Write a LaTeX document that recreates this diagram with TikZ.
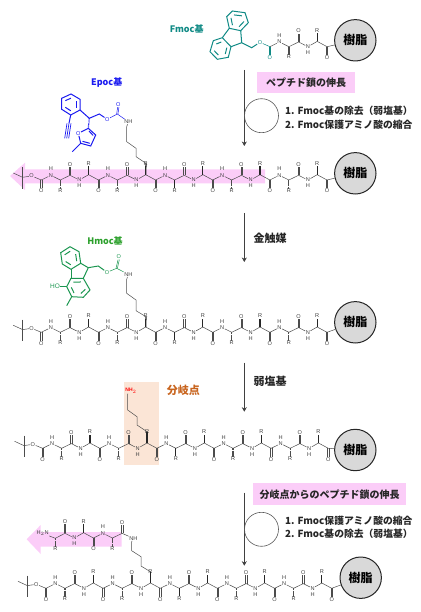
\documentclass[tikz,border=0pt]{standalone}
\usepackage{fontspec}
\newfontfamily\jpfont{Noto Sans CJK JP}
\setsansfont{Liberation Sans}
\usetikzlibrary{arrows.meta,calc}
\definecolor{fmoccol}{HTML}{108A85}
\definecolor{epoccol}{HTML}{1A1AF0}
\definecolor{hmoccol}{HTML}{1B9650}
\definecolor{hmoctxt}{HTML}{2CA02C}
\definecolor{branchcol}{HTML}{C8641E}
\definecolor{pinkband}{HTML}{FBCDF8}
\definecolor{peachbox}{HTML}{FBE5D6}
\begin{document}
\begin{tikzpicture}[
  x=1pt, y=-1pt,
  bond/.style     = {draw=black!70, line width=0.5pt},
  wedgeb/.style   = {draw=black!85, line width=1.2pt},
  hashb/.style    = {draw=black!70, line width=1.2pt, dash pattern=on 0.5pt off 0.6pt},
  atom/.style     = {font=\sffamily\fontsize{5.6}{6}\selectfont, inner sep=0.4pt, text=black!75},
  fmocb/.style    = {draw=fmoccol, line width=1pt},
  epocb/.style    = {draw=epoccol, line width=1pt},
  hmocb/.style    = {draw=hmoccol, line width=1pt},
  resin/.style    = {circle, draw=black!85, line width=1pt, fill=black!15, minimum size=41.4pt,
                     inner sep=0pt, font=\jpfont\bfseries\fontsize{12}{12}\selectfont},
  arr/.style      = {-{Stealth[length=4.5pt,width=5pt]}, draw=black!75, line width=0.6pt},
  repeatc/.style  = {draw=black!65, line width=0.6pt},
  tlabel/.style   = {font=\jpfont\bfseries\fontsize{9.8}{12}\selectfont, inner sep=0pt, text=black!85},
  clabel/.style   = {font=\jpfont\bfseries\fontsize{11}{12}\selectfont, inner sep=0pt, text=black!85},
  glabel/.style   = {font=\jpfont\bfseries\fontsize{9}{12}\selectfont, inner sep=0pt},
  tbox/.style     = {fill=pinkband, inner sep=0pt, text=black!85,
                     font=\jpfont\bfseries\fontsize{10}{12}\selectfont},
  pics/resdown/.style = {code={
    \coordinate (c) at (0,0);
    \node[atom] (n) at (9.5,-4.7) {N};
    \node[atom] (h) at (9.5,-11) {H};
    \coordinate (a) at (19,0);
    \node[atom] (r) at (19,10.3) {R};
    \coordinate (d) at (28.7,-4.7);
    \node[atom] (o) at (28.7,-15.7) {O};
    \draw[bond] (c) -- (n) -- (a) -- (d);
    \draw[#1] (a) -- (r);
    \foreach \s in {-0.65,0.65} \draw[bond] ([xshift=\s pt]d) -- ([xshift=\s pt]o.south);
  }},
  pics/resup/.style = {code={
    \coordinate (c) at (0,0);
    \node[atom] (n) at (9.3,4.7) {N};
    \node[atom] (h) at (9.3,10.7) {H};
    \coordinate (a) at (18.6,-0.6);
    \node[atom] (r) at (18.6,-11.6) {R};
    \coordinate (d) at (28.44,4.7);
    \node[atom] (o) at (28.44,15.7) {O};
    \draw[bond] (c) -- (n) -- (a) -- (d);
    \draw[wedgeb] (a) -- (r);
    \foreach \s in {-0.65,0.65} \draw[bond] ([xshift=\s pt]d) -- ([xshift=\s pt]o.north);
  }},
  pics/dipep/.style = {code={
    \pic {resdown=#1};
    \pic at (28.7,-4.7) {resup};
  }},
  pics/pepchain/.style = {code={
    \coordinate (first) at (0,0);
    \node[atom] (firsto) at (0,11) {O};
    \node[atom] (ester) at (-9.7,-4) {O};
    \coordinate (tbu) at (-18.7,-2.7);
    \coordinate (tbua) at (-28,-7);
    \coordinate (tbub) at (-18.7,-12.7);
    \coordinate (tbuc) at (-18.7,9);
    \draw[bond] (first) -- (ester) -- (tbu);
    \draw[bond] (tbua) -- (tbu);
    \draw[bond] (tbub) -- (tbuc);
    \foreach \s in {-0.65,0.65} \draw[bond] ([xshift=\s pt]first) -- ([xshift=\s pt]firsto.north);
    \foreach \x/\st in {0/hashb,1/hashb,2/wedgeb,3/hashb,4/hashb}
      \pic at (\x*57.14,0) {dipep=\st};
    \coordinate (lys) at (104.4,-5.3);
    \coordinate (last) at (285.7,0);
  }},
  pics/ring/.style n args = {6}{code={
    \draw[pic actions] (#1) -- (#2) -- (#3) -- (#4) -- (#5) -- (#6) -- cycle;
    \draw[pic actions] ($(#1)!.2!(#4)$) -- ($(#2)!.2!(#5)$);
    \draw[pic actions] ($(#3)!.2!(#6)$) -- ($(#4)!.2!(#1)$);
    \draw[pic actions] ($(#5)!.2!(#2)$) -- ($(#6)!.2!(#3)$);
  }},
]
\useasboundingbox (0,0) rectangle (420,612);
% backgrounds
\fill[pinkband] (10,176) -- (25,162.7) -- (25,169.3) -- (265,169.3) -- (265,183.3)
  -- (25,183.3) -- (25,190) -- cycle;
\fill[pinkband] (26.7,539.3) -- (40.7,525) -- (40.7,532) -- (121.7,532) -- (121.7,546.7)
  -- (40.7,546.7) -- (40.7,554) -- cycle;
\fill[peachbox] (124,381.7) rectangle (159.3,465);

% top row
\node[resin] (res1) at (355.3,40.3) {樹脂};
\pic (top) at (269.9,46.7) {dipep=hashb};
\coordinate (topend) at (327,46.7);
\draw[bond] (topend) -- (res1);
\node[atom, text=fmoccol] (fo1) at (260,42.3) {O};
\node[atom, text=fmoccol] (fo2) at (269.9,58) {O};
\coordinate (fc9) at (241.7,42.7);
\coordinate (fch2) at (251.7,47.7);
\coordinate (fc) at (269.9,46.7);
\pic[fmocb] {ring={232.3,11}{245,12.7}{248.3,22.7}{240.7,30.7}{229.3,28.3}{226.7,16.7}};
\pic[fmocb] {ring={213.3,40.7}{222.3,37.7}{231,46.7}{228.3,57.3}{217.3,59.3}{210,51.7}};
\draw[fmocb] (229.3,28.3) -- (222.3,37.7);
\draw[fmocb] (240.7,30.7) -- (fc9) -- (231,46.7);
\draw[fmocb] (fc9) -- (fch2) -- (fo1);
\draw[fmocb, line width=0.5pt] (fo1) -- (fc);
\foreach \s in {-0.65,0.65} \draw[fmocb, line width=0.5pt] ([xshift=\s pt]fc) -- ([xshift=\s pt]fo2.north);
\node[glabel, text=fmoccol] (fmoct) at (186.7,29) {Fmoc基};

% step 1
\coordinate (a1s) at (244.3,70);
\coordinate (a1e) at (244.3,146);
\draw[arr] (a1s) -- (a1e);
\node[tbox, minimum width=97.7pt, minimum height=20.7pt] (box1) at (306.2,82.3) {ペプチド鎖の伸長};
\node[circle, repeatc, draw, minimum size=34pt, inner sep=0pt] (cyc1) at (261.5,115.7) {};
\node[tlabel, anchor=west] (s11) at (285,111) {1. Fmoc基の除去（弱塩基）};
\node[tlabel, anchor=west] (s12) at (285,124.3) {2. Fmoc保護アミノ酸の縮合};

% row with Epoc
\pic (r2) at (41.3,180) {pepchain};
\node[resin] (res2) at (355.3,173.3) {樹脂};
\draw[bond] (r2last) -- (res2);
\node[atom] (n2) at (128.3,121.7) {NH};
\draw[wedgeb] (r2lys) -- (146,163.3);
\draw[bond] (146,163.3) -- (136,156.7) -- (136,148.3) -- (126.7,141.7) -- (126.7,126.7) -- (n2);
\node[atom, text=epoccol] (eo1) at (107.3,119.3) {O};
\node[atom, text=epoccol] (eo2) at (118.3,104.5) {O};
\node[atom, text=epoccol] (eo3) at (78.3,133.3) {O};
\coordinate (ec) at (117.3,114);
\coordinate (ech) at (89.3,118.3);
\coordinate (ech2) at (99.3,114);
\coordinate (efu) at (88.3,128.3);
\pic[epocb] {ring={61.7,98.3}{71,94}{80,99.3}{80,110}{70.7,115}{61.7,109.3}};
\draw[epocb] (80,110) -- (ech) -- (ech2) -- (eo1);
\draw[epocb, line width=0.5pt] (eo1) -- (ec) -- (n2);
\foreach \s in {-0.65,0.65} \draw[epocb, line width=0.5pt] ([xshift=\s pt]ec) -- ([xshift=\s pt]eo2.south);
\draw[epocb] (70.7,115) -- (69,123.3);
\foreach \s in {-2,0,2} \draw[epocb, line width=0.7pt] ([xshift=\s pt]69,123.3) -- ([xshift=\s pt]66.7,138.3);
\draw[epocb, line width=1.2pt, dash pattern=on 0.6pt off 0.6pt] (ech) -- (efu);
\draw[epocb] (eo3) -- (efu) -- (95.7,135) -- (90.7,146) -- (80.7,143.3) -- (eo3);
\draw[epocb] (89,131) -- (93.2,135.5);
\draw[epocb] (89.8,143.3) -- (82.5,141.3);
\draw[epocb] (80.7,143.3) -- (72.3,151.7);
\node[glabel, text=epoccol] (epoct) at (106.7,82.3) {Epoc基};

% step 2
\coordinate (a2s) at (244.3,213);
\coordinate (a2e) at (244.3,262);
\draw[arr] (a2s) -- (a2e);
\node[clabel] (cat) at (270,238.3) {金触媒};

% row with Hmoc
\pic (r3) at (41.3,332.3) {pepchain};
\node[resin] (res3) at (355.3,322.3) {樹脂};
\draw[bond] (r3last) -- (res3);
\node[atom] (n3) at (128.3,274.3) {NH};
\draw[wedgeb] (r3lys) -- (146,316.7);
\draw[bond] (146,316.7) -- (136,310.7) -- (136,300) -- (126.7,293.3) -- (126.7,279.3) -- (n3);
\node[atom, text=hmoccol] (ho1) at (107,272.3) {O};
\node[atom, text=hmoccol] (ho2) at (118.7,257) {O};
\node[atom, text=hmoccol, font=\sffamily\fontsize{6.5}{6}\selectfont] (ho3) at (55,286.7) {HO};
\coordinate (hc) at (116.7,268.3);
\coordinate (hc9) at (88.3,267.7);
\coordinate (hch2) at (98.3,266);
\pic[hmocb] {ring={60.7,252.7}{70,246.7}{79,251.7}{80.7,263.3}{71,269.3}{62.3,264}};
\pic[hmocb] {ring={71,278.3}{83.3,278.3}{90,290}{83.3,297.3}{71.7,296.7}{66.7,286.7}};
\draw[hmocb] (71,269.3) -- (71,278.3);
\draw[hmocb] (80.7,263.3) -- (hc9) -- (83.3,278.3);
\draw[hmocb] (hc9) -- (hch2) -- (ho1);
\draw[hmocb, line width=0.5pt] (ho1) -- (hc) -- (n3);
\foreach \s in {-0.65,0.65} \draw[hmocb, line width=0.5pt] ([xshift=\s pt]hc) -- ([xshift=\s pt]ho2.south);
\draw[hmocb] (66.7,286.7) -- (ho3);
\draw[hmocb] (71.7,296.7) -- (66.7,305.7);
\node[glabel, text=hmoctxt] (hmoct) at (105,240.7) {Hmoc基};

% step 3
\coordinate (a3s) at (244.3,362.7);
\coordinate (a3e) at (244.3,411.7);
\draw[arr] (a3s) -- (a3e);
\node[clabel] (base) at (270,381.7) {弱塩基};

% row with free amine
\pic (r4) at (42.6,448.3) {pepchain};
\node[resin] (res4) at (355.3,450) {樹脂};
\draw[bond] (r4last) -- (res4);
\node[atom, text=red, font=\sffamily\bfseries\fontsize{5}{6}\selectfont] (nh2) at (131,390.7) {NH$_2$};
\draw[wedgeb] (r4lys) -- (147,431.7);
\draw[bond] (147,431.7) -- (137,425) -- (137,416.7) -- (127.7,410) -- (127.7,394) -- (nh2);
\node[clabel, text=branchcol] (brancht) at (183.3,390) {分岐点};

% step 4
\coordinate (a4s) at (244.3,492.7);
\coordinate (a4e) at (244.3,565.7);
\draw[arr] (a4s) -- (a4e);
\node[tbox, minimum width=152.7pt, minimum height=21.7pt] (box2) at (329.7,494.2) {分岐点からのペプチド鎖の伸長};
\node[circle, repeatc, draw, minimum size=34pt, inner sep=0pt] (cyc2) at (261.5,529.3) {};
\node[tlabel, anchor=west] (s21) at (285,520.7) {1. Fmoc保護アミノ酸の縮合};
\node[tlabel, anchor=west] (s22) at (285,533.3) {2. Fmoc基の除去（弱塩基）};

% bottom row with branch
\pic (r5) at (46,588.3) {pepchain};
\node[resin] (res5) at (360.7,577.7) {樹脂};
\draw[bond] (r5last) -- (res5);
\node[atom] (n5) at (133.3,538.3) {NH};
\draw[wedgeb] (r5lys) -- (150.4,571.7);
\draw[bond] (150.4,571.7) -- (141,566) -- (141,556.7) -- (131.7,550.7) -- (131.7,541.7) -- (n5);
\node[atom] (h2n) at (42.7,533.3) {H$_2$N};
\coordinate (ba) at (55.3,538.3);
\node[atom] (br) at (55.3,549) {R};
\coordinate (bc) at (65,533.3);
\node[atom] (bo) at (65,521.7) {O};
\draw[bond] (h2n) -- (ba) -- (bc);
\draw[hashb] (ba) -- (br);
\foreach \s in {-0.65,0.65} \draw[bond] ([xshift=\s pt]bc) -- ([xshift=\s pt]bo.south);
\pic at (65,533.3) {resup};
\pic at (93.44,538) {resdown=hashb};
\draw[bond] (122.1,533.3) -- (n5);
\end{tikzpicture}
\end{document}
